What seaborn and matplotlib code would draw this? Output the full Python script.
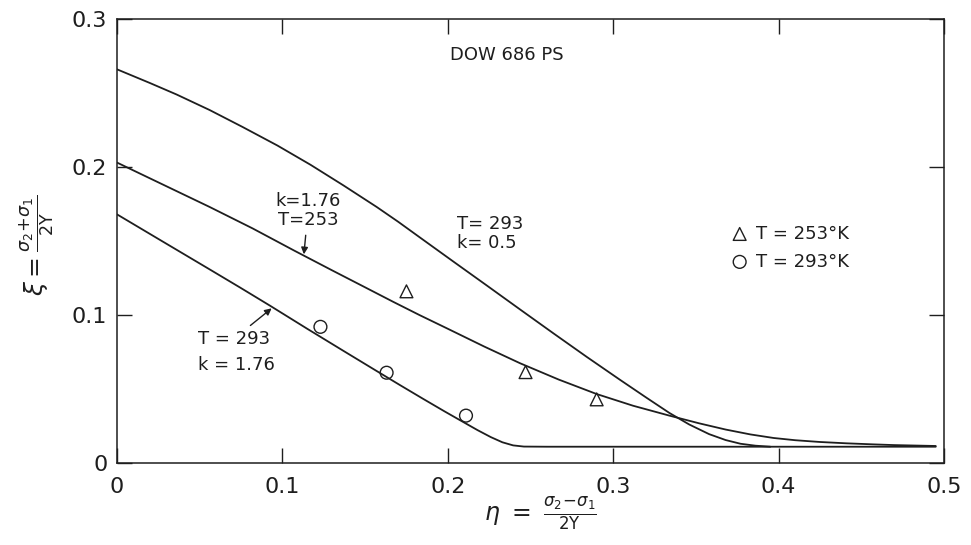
import matplotlib
matplotlib.use("Agg")
import matplotlib.pyplot as plt
import seaborn as sns
import pandas as pd

# Curve T=293, k=0.5
eta_a = [0.0, 0.02, 0.036, 0.056, 0.076, 0.097, 0.117, 0.137, 0.157, 0.17, 0.183, 0.2035,
         0.2235, 0.244, 0.264, 0.284, 0.304, 0.320, 0.334, 0.346, 0.358, 0.368, 0.377, 0.386, 0.395]
xi_a = [0.266, 0.2567, 0.249, 0.2385, 0.227, 0.2145, 0.2015, 0.1875, 0.173, 0.163, 0.1525, 0.136,
        0.120, 0.1035, 0.0875, 0.0717, 0.0563, 0.0442, 0.0338, 0.026, 0.0195, 0.0155, 0.013, 0.0117, 0.011]

# Curve T=253, k=1.76
eta_b = [0.0, 0.028, 0.056, 0.082, 0.107, 0.13, 0.15, 0.167, 0.183, 0.2, 0.222, 0.2437, 0.267,
         0.290, 0.312, 0.334, 0.352, 0.368, 0.383, 0.397, 0.41, 0.425, 0.441, 0.457, 0.47, 0.495]
xi_b = [0.203, 0.188, 0.173, 0.1585, 0.1436, 0.1302, 0.1187, 0.1089, 0.0999, 0.0907, 0.0787, 0.0674,
        0.0564, 0.0466, 0.0387, 0.032, 0.0268, 0.0226, 0.0193, 0.0169, 0.0154, 0.0142, 0.0133,
        0.0126, 0.0121, 0.0115]

# Curve T=293, k=1.76
eta_c = [0.0, 0.028, 0.0562, 0.0745, 0.0925, 0.115, 0.137, 0.155, 0.171, 0.185, 0.198, 0.209,
         0.218, 0.226, 0.233, 0.2395, 0.246, 0.26, 0.495]
xi_c = [0.168, 0.1494, 0.1307, 0.1185, 0.1063, 0.0907, 0.0757, 0.0635, 0.0527, 0.0434, 0.0349, 0.0279,
        0.0222, 0.0175, 0.014, 0.0119, 0.0111, 0.011, 0.011]

# Experimental points
tri_eta = [0.175, 0.247, 0.290]
tri_xi = [0.116, 0.0614, 0.043]
circ_eta = [0.123, 0.163, 0.211]
circ_xi = [0.092, 0.061, 0.032]

x_ticks = [0, 0.1, 0.2, 0.3, 0.4, 0.5]
x_ticklabels = ["0", "0.1", "0.2", "0.3", "0.4", "0.5"]
y_ticks = [0, 0.1, 0.2, 0.3]
y_ticklabels = ["0", "0.1", "0.2", "0.3"]

sns.set_style("ticks")
plt.rcParams["font.family"] = ["DejaVu Sans"]
plt.rcParams["mathtext.fontset"] = "dejavusans"

ink = "#1e1e1e"
fig = plt.figure(figsize=(9.71, 5.45), dpi=100)
ax = fig.add_axes([117 / 971, 1 - 463 / 545, (944 - 117) / 971, (463 - 19) / 545])

for ex, yx in [(eta_a, xi_a), (eta_b, xi_b), (eta_c, xi_c)]:
    df = pd.DataFrame({"eta": ex, "xi": yx})
    sns.lineplot(data=df, x="eta", y="xi", ax=ax, sort=False, estimator=None,
                 color=ink, linewidth=1.3, legend=False)
for ln in ax.lines:
    ln.set_solid_joinstyle("round")

sns.scatterplot(x=tri_eta, y=tri_xi, ax=ax, marker="^", s=85, facecolors="none",
                edgecolors=ink, linewidth=1.0, label="T = 253°K")
sns.scatterplot(x=circ_eta, y=circ_xi, ax=ax, marker="o", s=85, facecolors="none",
                edgecolors=ink, linewidth=1.0, label="T = 293°K")

ax.set_xlim(0, 0.5)
ax.set_ylim(0, 0.3)
ax.set_xticks(x_ticks)
ax.set_xticklabels(x_ticklabels)
ax.set_yticks(y_ticks)
ax.set_yticklabels(y_ticklabels)
ax.tick_params(direction="in", length=11, width=1, top=True, right=True,
               labelsize=16, colors=ink)
ax.tick_params(axis="x", pad=10)
ax.tick_params(axis="y", pad=7)
for s in ax.spines.values():
    s.set_visible(True)
    s.set_linewidth(1.1)
    s.set_color(ink)
ax.set_xlabel("")
ax.set_ylabel("")

leg = ax.legend(loc="center left", bbox_to_anchor=(0.742, 0.485), frameon=False,
                fontsize=13, handlelength=1.0, handletextpad=0.4, labelspacing=0.55,
                borderpad=0, borderaxespad=0)
for t in leg.get_texts():
    t.set_color(ink)

ax.text(0.2013, 0.2758, "DOW 686 PS", fontsize=13, ha="left", va="center", color=ink)
ax.text(0.2055, 0.155, "T= 293\nk= 0.5", fontsize=13, ha="left", va="center",
        color=ink, linespacing=1.1)
ax.annotate("k=1.76\nT=253", xy=(0.113, 0.141), xytext=(0.1155, 0.1706),
            fontsize=13, ha="center", va="center", color=ink, linespacing=1.1,
            arrowprops=dict(arrowstyle="-|>", color=ink, lw=1.0, shrinkA=2, shrinkB=0,
                            mutation_scale=10))
ax.annotate("T = 293\nk = 1.76", xy=(0.0935, 0.1045), xytext=(0.049, 0.075),
            fontsize=13, ha="left", va="center", color=ink, linespacing=1.5,
            arrowprops=dict(arrowstyle="-|>", color=ink, lw=1.0, shrinkA=2, shrinkB=0,
                            mutation_scale=10, relpos=(0.6, 1.0)))

fig.text(37 / 971, 1 - 245 / 545, r"$\xi = \frac{\sigma_2\!+\!\sigma_1}{2\mathrm{Y}}$",
         rotation=90, fontsize=18, ha="center", va="center", color=ink)
fig.text(540 / 971, 1 - 514 / 545, r"$\eta\ =\ \frac{\sigma_2\!-\!\sigma_1}{2\mathrm{Y}}$",
         fontsize=17, ha="center", va="center", color=ink)

fig.savefig("out.png", dpi=100, facecolor="white")
